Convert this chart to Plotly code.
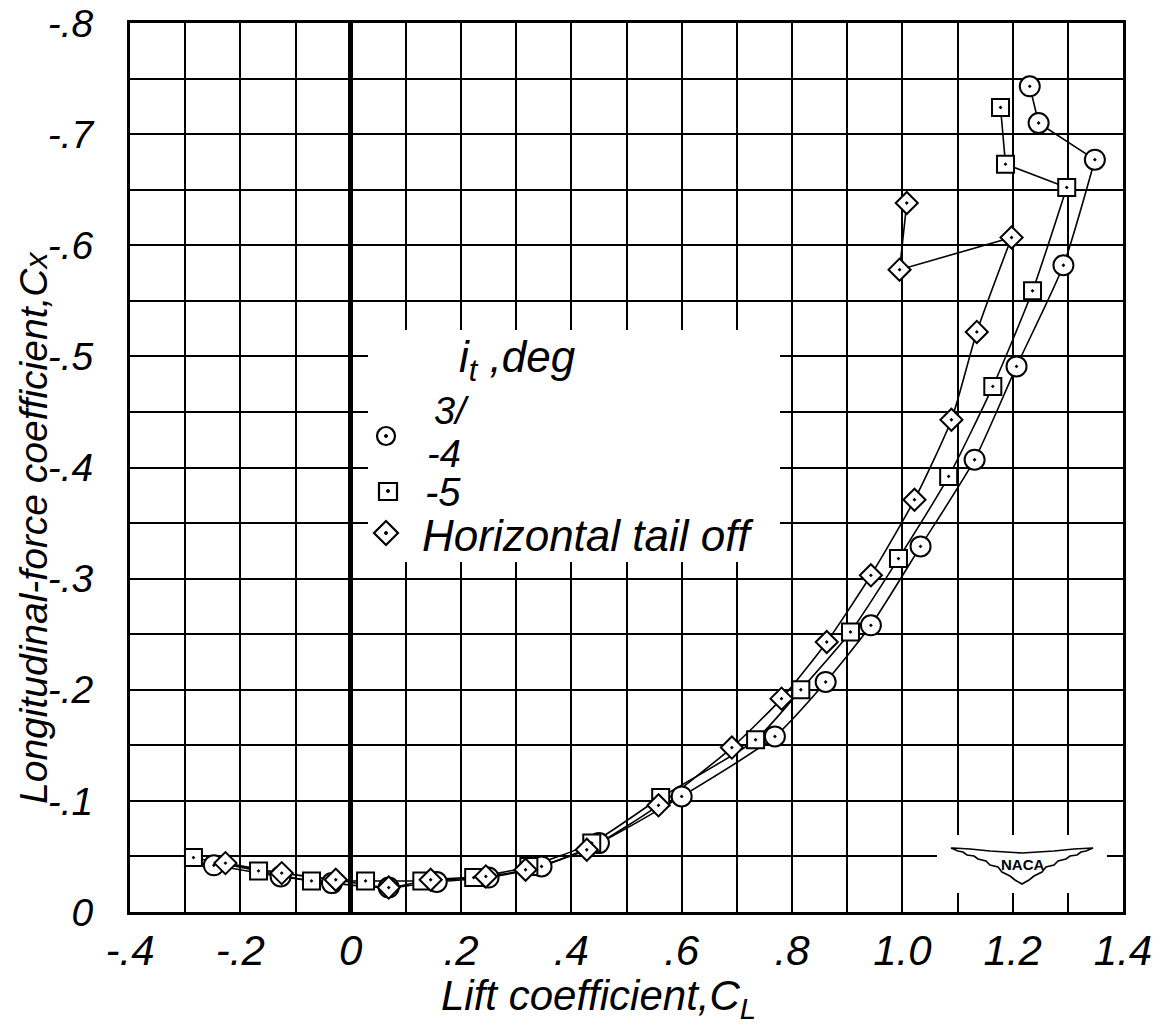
import numpy as np
import plotly.graph_objects as go

# ---------------- data ----------------
lift_it_m4 = [-0.248, -0.127, -0.034, 0.069, 0.156, 0.250, 0.346, 0.450, 0.600, 0.769,
              0.861, 0.943, 1.033, 1.131, 1.207, 1.292, 1.349, 1.247, 1.231]
cx_it_m4 = [-0.042, -0.032, -0.026, -0.022, -0.027, -0.031, -0.041, -0.062, -0.104, -0.158,
            -0.207, -0.258, -0.329, -0.407, -0.491, -0.582, -0.677, -0.710, -0.743]

lift_it_m5 = [-0.285, -0.167, -0.071, 0.027, 0.129, 0.223, 0.323, 0.437, 0.562, 0.734,
              0.816, 0.906, 0.993, 1.084, 1.164, 1.236, 1.298, 1.187, 1.178]
cx_it_m5 = [-0.049, -0.037, -0.028, -0.028, -0.028, -0.031, -0.041, -0.062, -0.103, -0.155,
            -0.200, -0.252, -0.318, -0.392, -0.473, -0.559, -0.652, -0.673, -0.724]

lift_tail_off = [-0.227, -0.125, -0.027, 0.069, 0.145, 0.245, 0.317, 0.428, 0.558, 0.691,
                 0.781, 0.863, 0.943, 1.022, 1.089, 1.135, 1.198, 0.995, 1.008]
cx_tail_off = [-0.044, -0.035, -0.029, -0.022, -0.029, -0.032, -0.038, -0.056, -0.096, -0.148,
               -0.192, -0.243, -0.303, -0.371, -0.443, -0.522, -0.607, -0.578, -0.638]

x_tick_vals = [-0.4, -0.2, 0.0, 0.2, 0.4, 0.6, 0.8, 1.0, 1.2, 1.4]
x_tick_text = ["-.4", "-.2", "0", ".2", ".4", ".6", ".8", "1.0", "1.2", "1.4"]
y_tick_vals = [0.0, -0.1, -0.2, -0.3, -0.4, -0.5, -0.6, -0.7, -0.8]
y_tick_text = ["0", "-.1", "-.2", "-.3", "-.4", "-.5", "-.6", "-.7", "-.8"]

series = [
    ("3/-4", lift_it_m4, cx_it_m4, "circle-dot", 20),
    ("-5", lift_it_m5, cx_it_m5, "square-dot", 17),
    ("Horizontal tail off", lift_tail_off, cx_tail_off, "diamond-dot", 17),
]

# ---------------- layout geometry (window pixels) ----------------
W, H = 1161, 1031
OFF = 8                                       # default page body margin
PL, PR, PT, PB = 130, 1123, 23, 912          # plot area in window pixels
XR = (-0.4, 1.4)
YR = (0.0, -0.8)
FONT = "Liberation Sans, Arial, sans-serif"


def dx(px):  # window pixel -> data x
    return XR[0] + (px - PL) / (PR - PL) * (XR[1] - XR[0])


def dy(py):  # window pixel -> data y
    return YR[0] + (PB - py) / (PB - PT) * (YR[1] - YR[0])


def ppx(px):  # window pixel -> paper x
    return (px - PL) / (PR - PL)


def ppy(py):  # window pixel -> paper y
    return (PB - py) / (PB - PT)


fig = go.Figure()

# faired curves: spline up to maximum lift, straight segments afterwards
for name, xs, ys, sym, sz in series:
    k = int(np.argmax(xs))
    fig.add_trace(go.Scatter(x=xs[:k + 1], y=ys[:k + 1], mode="lines",
                             line=dict(color="black", width=1.6, shape="spline", smoothing=0.6),
                             showlegend=False, hoverinfo="skip"))
    fig.add_trace(go.Scatter(x=xs[k:], y=ys[k:], mode="lines",
                             line=dict(color="black", width=1.6),
                             showlegend=False, hoverinfo="skip"))

for name, xs, ys, sym, sz in series:
    fig.add_trace(go.Scatter(x=xs, y=ys, mode="markers", name=name,
                             marker=dict(symbol=sym, size=sz, color="white",
                                         line=dict(color="black", width=2)),
                             showlegend=False))

xtickfont = dict(family=FONT, size=42, color="black", style="italic")
ytickfont = dict(family=FONT, size=39, color="black", style="italic")

fig.update_xaxes(range=list(XR), tickvals=x_tick_vals, ticktext=x_tick_text,
                 automargin=False,
                 showgrid=True, gridcolor="black", gridwidth=2,
                 minor=dict(dtick=0.1, tick0=0, showgrid=True, gridcolor="black", gridwidth=2),
                 zeroline=True, zerolinecolor="black", zerolinewidth=5,
                 showline=True, linecolor="black", linewidth=3, mirror=True,
                 ticks="outside", ticklen=0, tickcolor="rgba(0,0,0,0)",
                 ticklabeloverflow="allow", tickfont=xtickfont)
fig.update_yaxes(range=list(YR), tickvals=y_tick_vals, ticktext=y_tick_text,
                 automargin=False,
                 showgrid=True, gridcolor="black", gridwidth=2,
                 minor=dict(dtick=0.05, tick0=0, showgrid=True, gridcolor="black", gridwidth=2),
                 zeroline=False,
                 showline=True, linecolor="black", linewidth=3, mirror=True,
                 ticks="outside", ticklen=26, tickcolor="rgba(0,0,0,0)",
                 ticklabeloverflow="allow", tickfont=ytickfont)

shapes = []
# white legend panel and logo panel (cover grid, under traces)
shapes.append(dict(type="rect", xref="x", yref="y", layer="between",
                   x0=dx(368), x1=dx(780), y0=dy(330), y1=dy(562),
                   fillcolor="white", line=dict(width=0)))
shapes.append(dict(type="rect", xref="x", yref="y", layer="between",
                   x0=dx(937), x1=dx(1107), y0=dy(835), y1=dy(893),
                   fillcolor="white", line=dict(width=0)))

# legend keys
def circ(cx, cy, r):
    return dict(type="circle", xref="paper", yref="paper",
                x0=ppx(cx - r), x1=ppx(cx + r), y0=ppy(cy + r), y1=ppy(cy - r),
                line=dict(color="black", width=2.2), fillcolor="white", layer="above")


def dot(cx, cy):
    return dict(type="circle", xref="paper", yref="paper",
                x0=ppx(cx - 1.5), x1=ppx(cx + 1.5), y0=ppy(cy + 1.5), y1=ppy(cy - 1.5),
                line=dict(color="black", width=1), fillcolor="black", layer="above")


shapes.append(circ(386, 436, 9))
shapes.append(dot(386, 436))
shapes.append(dict(type="rect", xref="paper", yref="paper",
                   x0=ppx(379), x1=ppx(397), y0=ppy(500), y1=ppy(483),
                   line=dict(color="black", width=2.2), fillcolor="white", layer="above"))
shapes.append(dot(388, 491))
dpath = "M {},{} L {},{} L {},{} L {},{} Z".format(
    ppx(386), ppy(521), ppx(398), ppy(533), ppx(386), ppy(545), ppx(374), ppy(533))
shapes.append(dict(type="path", xref="paper", yref="paper", path=dpath,
                   line=dict(color="black", width=2.2), fillcolor="white", layer="above"))
shapes.append(dot(386, 533))

# NACA wing emblem (outline with a lightly feathered lower edge)
top = [(953, 848), (970, 849), (990, 851), (1022, 853), (1054, 851), (1074, 849), (1093, 848)]
low_r = [(1093, 848), (1086, 851), (1081, 852), (1077, 855), (1070, 856), (1066, 859),
         (1058, 861), (1054, 865), (1046, 867), (1042, 872), (1034, 876), (1029, 880), (1022, 884)]
low_l = [(2 * 1022 - x, y) for (x, y) in reversed(low_r)]
pts = top + low_r[1:] + low_l[1:]
wpath = "M " + " L ".join("{:.5f},{:.5f}".format(ppx(x), ppy(y)) for x, y in pts) + " Z"
shapes.append(dict(type="path", xref="paper", yref="paper", path=wpath,
                   line=dict(color="black", width=1.6), fillcolor="white", layer="above"))

annotations = []


def txt(text, x, y, size=44, xanchor="center", **kw):
    annotations.append(dict(text=text, x=ppx(x), y=ppy(y), xref="paper", yref="paper",
                            xanchor=xanchor, yanchor="middle", showarrow=False,
                            font=dict(family=FONT, size=size, color="black", style="italic"), **kw))


txt("i<sub>t</sub> ,deg", 517, 360)
txt("3/", 451, 411, size=38)
txt("-4", 444, 454, size=38)
txt("-5", 443, 492, size=40)
txt("Horizontal tail off", 420, 535, xanchor="left")
txt("Lift coefficient,C<sub>L</sub>", 598, 998, size=42)
txt("Longitudinal-force coefficient,C<span style='font-size:32px'>x</span>", 33, 528,
    size=39, textangle=-90)
annotations.append(dict(text="<b>NACA</b>", x=ppx(1022), y=ppy(864), xref="paper", yref="paper",
                        xanchor="center", yanchor="middle", showarrow=False,
                        font=dict(family="Liberation Sans", size=15, color="black")))

fig.update_layout(width=W - OFF, height=H - OFF, autosize=False,
                  margin=dict(l=PL - OFF, r=W - PR, t=PT - OFF, b=H - PB, pad=0),
                  plot_bgcolor="white", paper_bgcolor="white",
                  shapes=shapes, annotations=annotations, showlegend=False)

fig.write_html("out.html")
